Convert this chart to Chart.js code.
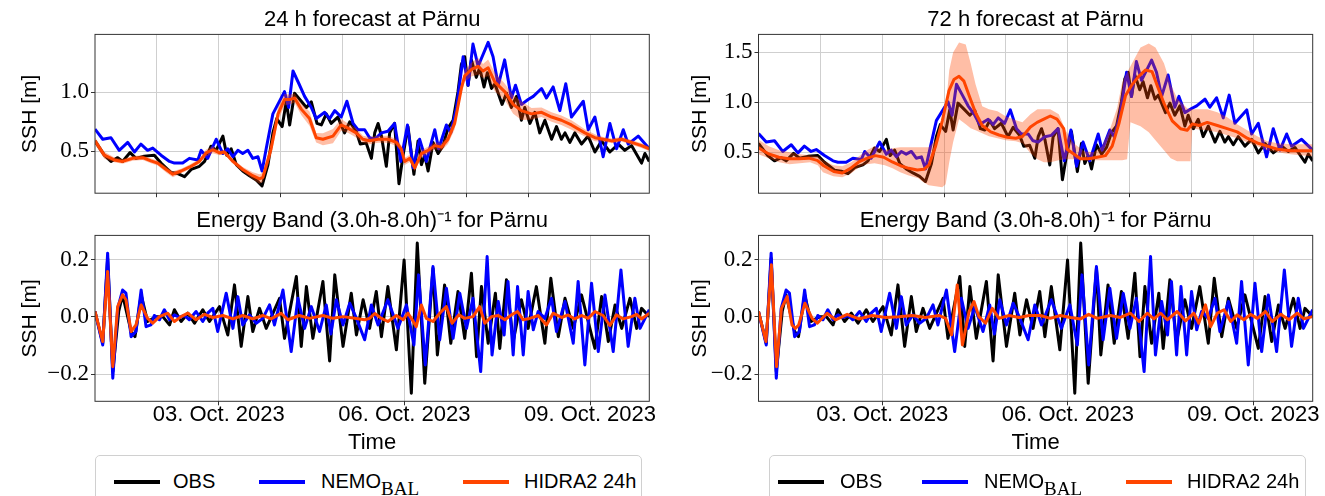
<!DOCTYPE html>
<html>
<head>
<meta charset="utf-8">
<script src="https://cdn.jsdelivr.net/npm/chart.js@4.4.0/dist/chart.umd.min.js"></script>
<style>
  body { margin: 0; background: #fff; width: 1325px; height: 496px; overflow: hidden; position: relative; }
  canvas { position: absolute; }
  .legend { position: absolute; top: 455px; height: 60px; border: 1px solid #d0d0d0; border-radius: 5px; background: #fff; font-family: "Liberation Sans", Arial, sans-serif; font-size: 20px; color: #000; }
  .legend i { position: absolute; top: 24px; width: 46px; height: 4px; }
  .legend span { position: absolute; top: 15px; line-height: 20px; white-space: nowrap; }
  .legend sub { font-family: "Liberation Serif", serif; font-size: 19px; vertical-align: -7px; line-height: 0; }
</style>
</head>
<body>
<canvas id="tl" width="662" height="209" style="left:0;top:0"></canvas>
<canvas id="bl" width="662" height="255" style="left:0;top:201px"></canvas>
<canvas id="tr" width="663" height="209" style="left:662px;top:0"></canvas>
<canvas id="br" width="663" height="255" style="left:662px;top:201px"></canvas>

<div class="legend" style="left:95px;width:545px">
  <i style="left:18px;background:#000"></i><span style="left:77px">OBS</span>
  <i style="left:163px;background:#0000ff"></i><span style="left:225px">NEMO<sub>BAL</sub></span>
  <i style="left:367px;background:#ff4500"></i><span style="left:428px">HIDRA2 24h</span>
</div>
<div class="legend" style="left:769px;width:535px">
  <i style="left:8px;background:#000"></i><span style="left:70px">OBS</span>
  <i style="left:152px;background:#0000ff"></i><span style="left:214px">NEMO<sub>BAL</sub></span>
  <i style="left:356px;background:#ff4500"></i><span style="left:417px">HIDRA2 24h</span>
</div>

<script>
// time axis: hours since 01 Oct 2023 00:00
const X_MAX = 215;
const dayTicks = [24, 48, 72, 96, 120, 144, 168, 192];
const labelTicks = [48, 120, 192];
const labelText = ["03. Oct. 2023", "06. Oct. 2023", "09. Oct. 2023"];

const sshTicks24 = [0.5, 1.0];
const sshTicks72 = [0.5, 1.0, 1.5];
const bandTicks = [-0.2, 0.0, 0.2];

// observed sea surface height
const obsT = [0,3.6,6.2,8.8,10.7,13.6,15.9,19.1,23.0,25.6,29.5,32.1,34.7,37.3,40.5,42.5,45.0,47.0,49.6,51.1,52.8,54.8,57.3,59.9,62.5,64.8,67.1,69.0,70.5,72.6,74.2,75.5,77.4,80.0,82.0,83.9,86.1,87.8,89.7,91.6,94.2,96.8,98.8,101.3,102.9,105.2,107.2,108.5,109.8,111.1,113.0,114.3,116.2,117.9,119.5,121.4,123.7,125.3,126.6,127.9,129.2,131.1,133.1,135.0,136.9,138.9,140.8,142.1,143.4,144.7,146.0,147.9,149.2,150.9,152.2,153.8,155.1,157.9,159.6,161.5,163.5,165.4,166.7,168.7,170.6,172.5,174.5,177.1,179.0,180.9,182.3,184.2,186.1,188.7,191.3,193.9,196.5,199.7,203.0,205.5,208.1,212.0,213.3,215];
const obsV = [0.588,0.467,0.414,0.446,0.414,0.489,0.440,0.459,0.467,0.400,0.320,0.311,0.285,0.346,0.373,0.414,0.543,0.508,0.629,0.467,0.521,0.387,0.333,0.293,0.258,0.207,0.387,0.656,0.777,0.709,0.924,0.723,0.992,0.924,0.871,0.919,0.736,0.723,0.817,0.736,0.790,0.656,0.750,0.669,0.561,0.57,0.44,0.656,0.736,0.629,0.373,0.656,0.736,0.225,0.467,0.709,0.306,0.588,0.387,0.467,0.333,0.575,0.481,0.548,0.696,0.763,1.005,1.234,1.301,1.059,1.274,1.126,1.207,1.045,1.166,1.032,1.072,0.897,0.992,0.871,0.965,0.763,0.871,0.736,0.830,0.656,0.763,0.602,0.709,0.602,0.656,0.575,0.656,0.561,0.629,0.494,0.588,0.494,0.561,0.508,0.548,0.400,0.481,0.414];

// NEMO model
const nemoT = [0,3.0,6.2,9.4,12.7,15.3,17.8,20.4,22.4,25.6,28.9,30.8,34.0,36.6,39.9,41.2,43.7,47.0,49.6,51.5,53.5,55.4,57.3,59.3,61.2,63.2,64.8,66.4,69.0,73.5,75.1,76.8,79.1,81.3,83.9,85.8,89.1,91.0,93.0,95.5,97.7,100.1,102.0,104.6,106.5,108.5,111.1,113.6,116.2,118.6,121.2,123.4,125.9,128.5,131.8,133.3,136.3,138.0,140.2,142.8,144.7,146.6,148.6,152.5,154.4,156.4,158.9,161.5,163.1,165.4,168.0,170.0,173.2,175.1,177.7,180.3,182.6,184.8,189.4,191.3,193.9,197.1,199.7,202.3,204.9,206.8,210.7,215];
const nemoV = [0.688,0.602,0.615,0.508,0.575,0.494,0.561,0.508,0.527,0.467,0.414,0.400,0.400,0.440,0.427,0.508,0.440,0.602,0.481,0.521,0.454,0.508,0.481,0.508,0.440,0.454,0.333,0.521,0.817,1.005,0.871,1.180,1.072,0.965,0.871,0.777,0.830,0.777,0.844,0.790,0.924,0.736,0.683,0.683,0.615,0.602,0.656,0.669,0.736,0.414,0.723,0.360,0.602,0.414,0.683,0.521,0.723,0.656,0.871,1.301,1.059,1.408,1.220,1.422,1.301,1.059,1.274,0.951,1.059,0.897,0.938,0.965,1.032,0.951,1.045,0.844,1.072,0.790,0.924,0.683,0.790,0.454,0.736,0.521,0.683,0.561,0.629,0.521];

// HIDRA2 24h forecast + ensemble spread
const h24T = [0,3.6,7.5,10.7,14.6,18.5,21.7,24.3,27.6,30.2,33.4,36.6,40.5,43.1,45.7,48.3,50.2,53.5,57.3,61.2,63.8,65.1,68.3,71.0,73.5,75.5,77.4,80.0,83.2,85.8,88.4,92.3,95.5,98.1,101.3,103.9,106.5,109.8,113.6,116.9,118.8,120.1,122.1,124.0,126.6,129.2,131.8,134.4,136.9,139.5,142.1,143.4,146.0,148.6,150.5,152.5,155.1,158.9,162.2,165.4,169.3,173.2,177.1,180.9,184.8,190.0,193.9,197.1,200.4,204.3,208.1,212.0,215];
const h24V = [0.588,0.467,0.427,0.414,0.440,0.446,0.419,0.400,0.346,0.306,0.333,0.365,0.414,0.486,0.513,0.486,0.494,0.414,0.346,0.293,0.266,0.279,0.521,0.817,0.938,0.938,0.951,0.857,0.777,0.615,0.602,0.629,0.723,0.696,0.656,0.602,0.59,0.602,0.602,0.575,0.521,0.414,0.440,0.360,0.481,0.508,0.548,0.535,0.602,0.736,1.032,1.139,1.193,1.220,1.180,1.207,1.086,1.005,0.897,0.844,0.817,0.830,0.790,0.763,0.723,0.656,0.615,0.602,0.588,0.602,0.575,0.548,0.521];
const h24Up = [0.618,0.497,0.447,0.434,0.460,0.466,0.439,0.420,0.371,0.331,0.353,0.385,0.434,0.516,0.543,0.506,0.514,0.434,0.366,0.323,0.306,0.319,0.581,0.877,0.988,0.978,0.991,0.907,0.837,0.655,0.652,0.689,0.773,0.736,0.696,0.632,0.62,0.632,0.632,0.605,0.551,0.444,0.470,0.390,0.511,0.538,0.578,0.565,0.642,0.786,1.072,1.189,1.253,1.290,1.240,1.277,1.166,1.075,0.977,0.924,0.867,0.870,0.830,0.803,0.763,0.686,0.645,0.622,0.608,0.622,0.595,0.568,0.541];
const h24Lo = [0.558,0.437,0.407,0.394,0.420,0.426,0.399,0.380,0.321,0.281,0.313,0.345,0.394,0.456,0.483,0.466,0.474,0.394,0.326,0.263,0.226,0.239,0.461,0.757,0.888,0.898,0.911,0.807,0.717,0.575,0.552,0.569,0.673,0.656,0.616,0.572,0.56,0.572,0.572,0.545,0.491,0.384,0.410,0.330,0.451,0.478,0.518,0.505,0.562,0.686,0.992,1.089,1.133,1.150,1.120,1.137,1.006,0.935,0.817,0.764,0.767,0.790,0.750,0.723,0.683,0.626,0.585,0.582,0.568,0.582,0.555,0.528,0.501];

// HIDRA2 72h forecast + ensemble spread
const h72T = [0,4.0,7.9,11.75,15.6,19.5,22.8,25.3,29.2,32.5,35.7,38.9,42.2,45.4,48.6,51.9,55.1,58.3,61.6,64.2,66.1,68.7,71.3,73.9,75.8,77.8,79.7,81.7,84.2,86.8,90.1,93.3,96.5,99.8,102.4,105.5,108.1,110.7,113.2,115.8,118.4,119.7,122.3,124.9,128.1,131.4,134.6,137.2,139.8,142.4,145.0,147.5,150.1,152.7,154.7,157.3,160.5,163.7,166.3,168.3,170.9,174.1,178.0,181.8,185.7,189.6,193.5,197.4,201.3,206.4,210.3,215];
const h72V = [0.545,0.482,0.450,0.434,0.434,0.441,0.419,0.365,0.307,0.292,0.339,0.403,0.441,0.466,0.450,0.403,0.365,0.339,0.323,0.330,0.371,0.561,0.815,1.117,1.228,1.260,1.212,1.069,0.895,0.768,0.704,0.673,0.650,0.641,0.657,0.752,0.799,0.831,0.863,0.831,0.736,0.530,0.482,0.434,0.434,0.450,0.466,0.561,0.784,1.069,1.180,1.260,1.323,1.307,1.165,0.990,0.815,0.736,0.720,0.784,0.768,0.799,0.768,0.736,0.704,0.641,0.593,0.561,0.530,0.514,0.514,0.514];
const b72T = [0,4,8,12,16,20,23,25,29,32.5,36,39,42,45,49,52,55,58,62,64,66,68.7,71.3,72.6,74,75.5,77.8,80.4,82.3,84.2,86.8,89.4,92.7,95.9,99.8,102.4,105.5,108.2,110.7,113.2,116.5,119.1,122.3,126.2,130.1,133.3,136.6,139.1,141.1,143.0,144.3,148.2,151.4,154.0,157.3,159.9,162.4,166.3,167.6,168.3,170.2,174.1,178.0,181.8,185.7,189.6,193.5,197.4,201.3,206.4,210.3,215];
const b72Up = [0.625,0.56,0.52,0.50,0.48,0.47,0.46,0.42,0.37,0.36,0.40,0.46,0.52,0.56,0.52,0.54,0.55,0.55,0.55,0.55,0.55,0.62,0.85,0.94,1.32,1.50,1.60,1.58,1.39,1.18,0.96,0.93,0.91,0.86,0.82,0.80,0.88,0.93,0.93,0.93,0.88,0.72,0.59,0.51,0.50,0.56,0.75,0.94,1.20,1.30,1.36,1.55,1.59,1.55,1.39,1.18,1.04,0.94,0.93,0.93,0.93,0.93,0.90,0.85,0.78,0.72,0.66,0.61,0.59,0.58,0.58,0.58];
const b72Lo = [0.48,0.44,0.40,0.38,0.39,0.40,0.37,0.30,0.26,0.25,0.29,0.35,0.38,0.39,0.37,0.34,0.30,0.27,0.24,0.20,0.17,0.16,0.15,0.18,0.40,0.60,0.83,0.78,0.74,0.72,0.69,0.66,0.64,0.62,0.61,0.59,0.49,0.43,0.40,0.40,0.42,0.43,0.43,0.42,0.42,0.42,0.42,0.42,0.42,0.43,0.80,0.76,0.70,0.62,0.52,0.44,0.41,0.41,0.41,0.74,0.73,0.72,0.70,0.67,0.64,0.60,0.56,0.52,0.50,0.48,0.47,0.46];

// energy band (3h-8h) signals
const obsBT = [0,3.0,4.9,6.9,9.2,10.7,14.0,15.5,17.9,20.4,23.7,26.3,28.9,30.8,33.4,36.0,38.6,41.8,44.4,48.3,51.5,54.1,56.7,59.3,61.2,63.8,66.4,71.6,73.5,78.1,80.0,82.0,84.5,88.4,91.0,93.0,96.2,99.4,101.4,104.0,106.5,109.1,111.1,113.6,116.9,119.9,122.7,125.0,127.9,131.1,132.8,135.6,138.0,140.8,143.4,146.0,148.0,149.9,152.5,155.3,157.0,159.6,162.2,165.4,168.0,171.2,174.5,176.8,179.7,182.3,185.5,188.7,193.9,196.5,199.1,201.7,204.3,207.5,210.1,212.0,215];
const obsBV = [0.019,-0.092,0.205,-0.191,0.019,0.077,-0.051,-0.069,0.077,-0.016,0.001,0.001,-0.028,0.025,-0.016,0.013,-0.022,0.025,-0.016,0.036,-0.063,0.112,-0.103,0.071,-0.051,0.030,-0.040,0.065,-0.075,0.141,-0.103,0.106,-0.075,0.124,-0.154,0.147,-0.103,0.083,-0.063,0.060,-0.040,0.089,-0.069,0.106,-0.115,0.199,-0.267,0.258,-0.232,0.170,-0.133,0.112,-0.092,0.089,-0.075,0.153,-0.139,0.106,-0.092,0.083,-0.110,0.130,-0.086,0.060,-0.040,0.106,-0.092,0.135,-0.069,0.065,-0.040,0.077,-0.110,0.071,-0.086,0.042,-0.040,0.065,-0.040,0.030,0.001];
const nemoBT = [0,3.0,4.9,6.9,8.8,10.7,12.0,14.0,15.9,17.9,19.8,21.7,23.0,25.0,26.9,28.9,30.8,32.7,34.7,36.6,39.2,41.8,43.7,45.7,47.6,50.9,53.5,55.4,57.3,59.9,62.5,65.1,67.7,69.6,72.9,76.1,78.7,81.3,83.9,87.1,89.7,91.5,93.6,96.2,98.8,101.4,104.6,107.2,109.8,113.6,117.5,120.8,123.7,125.5,128.1,131.1,133.7,136.3,138.9,141.5,144.1,146.6,149.6,152.1,154.0,156.4,158.7,160.2,162.2,163.9,166.1,168.0,170.0,171.9,174.5,177.1,179.0,182.3,185.5,187.4,190.0,192.6,195.2,197.8,201.0,204.0,206.8,209.4,211.4,215];
const nemoBV = [0.019,-0.098,0.223,-0.214,0.030,0.094,0.083,-0.069,-0.051,0.094,-0.034,-0.028,0.005,-0.010,0.025,-0.010,0.007,-0.002,0.005,-0.010,0.019,-0.016,0.013,0.030,-0.051,0.083,-0.040,0.071,-0.028,0.007,-0.022,-0.005,0.042,-0.028,0.094,-0.121,0.065,-0.040,0.036,-0.051,0.042,-0.060,0.060,-0.028,0.048,-0.005,-0.080,0.042,-0.028,0.060,-0.040,0.042,-0.098,0.147,-0.168,0.176,-0.080,0.100,-0.075,0.083,-0.040,0.065,-0.191,0.211,-0.133,0.054,-0.063,0.124,-0.133,0.106,-0.133,0.089,-0.045,0.019,-0.005,0.065,-0.051,0.054,-0.092,0.124,-0.168,0.118,-0.121,0.077,-0.121,0.164,-0.103,0.065,-0.040,0.025];
const h24BT = [0,3.0,4.9,6.9,8.8,10.7,12.0,14.0,15.9,17.9,20.4,22.4,25.0,28.2,30.8,33.4,36.0,39.2,42.5,45.7,49.6,53.5,57.3,61.2,65.1,68.3,72.2,74.8,79.3,83.2,88.4,92.3,96.2,100.7,104.6,106.5,108.5,111.1,113.6,116.9,119.5,121.4,122.7,124.6,126.6,128.5,131.1,133.7,136.3,138.5,141.1,143.4,146.6,149.2,151.2,153.8,156.4,159.0,161.5,163.9,166.1,168.7,171.9,175.1,177.7,181.0,183.5,186.1,188.7,191.3,193.9,197.1,199.7,202.3,204.9,208.1,210.1,212.0,215];
const h24BV = [0.019,-0.086,0.159,-0.174,0.036,0.077,0.060,-0.051,-0.028,0.042,-0.005,-0.022,0.001,0.013,-0.016,0.001,0.013,-0.010,0.009,-0.002,0.005,-0.007,0.005,-0.007,0.005,-0.007,0.013,-0.010,0.005,-0.005,0.005,-0.005,0.001,-0.005,-0.010,-0.005,0.012,-0.005,-0.016,0.005,-0.010,0.013,-0.005,-0.034,0.042,-0.005,-0.016,0.013,0.036,-0.022,0.007,-0.005,0.001,0.036,-0.022,0.001,0.005,-0.010,0.007,0.019,-0.010,-0.005,0.005,-0.028,0.013,-0.002,0.007,-0.007,0.005,-0.005,0.019,0.005,-0.030,0.007,-0.007,0.001,0.009,-0.007,0.013];
const h72BT = [0,2.9,5.0,7.0,8.9,11.1,13.0,14.3,15.6,18.0,20.8,22.8,26.6,29.9,34.4,38.9,44.1,49.3,54.5,59.6,64.8,70.0,72.6,74.9,77.1,79.1,81.7,83.6,85.5,88.1,90.7,93.3,97.2,101.1,105.0,109.4,113.2,117.1,121.0,124.9,128.1,131.4,136.5,140.4,144.3,147.6,150.8,153.4,156.0,158.6,162.4,165.7,168.9,170.8,173.4,175.4,178.0,180.6,183.2,185.7,188.3,190.9,193.5,196.7,199.3,202.6,205.8,209.0,211.6,215];
const h72BV = [0.019,-0.086,0.182,-0.174,0.030,0.071,-0.028,-0.040,-0.028,0.048,-0.005,-0.022,0.013,-0.010,0.009,-0.007,0.005,-0.002,0.001,0.005,-0.002,0.005,-0.005,-0.063,0.112,-0.098,0.019,0.054,0.001,-0.022,0.030,-0.005,0.005,-0.002,0.005,0.005,-0.005,0.005,-0.002,-0.007,0.009,-0.005,0.005,-0.002,0.013,-0.016,0.013,-0.007,0.013,-0.010,0.019,-0.014,0.013,-0.022,0.042,-0.034,0.013,0.025,-0.016,0.007,-0.010,0.009,-0.005,0.019,-0.016,0.009,-0.010,0.013,-0.007,0.001];

const SANS = '"Liberation Sans", Arial, sans-serif';
const SERIF = '"Liberation Serif", "Times New Roman", serif';
const GRID = "#cfcfcf";
const OBS_COLOR = "#000000";
const NEMO_COLOR = "#0000ff";
const HIDRA_COLOR = "#ff4500";
const BAND_COLOR = "rgba(255, 69, 0, 0.35)";

const pts = (ts, vs) => ts.map((t, i) => ({ x: t, y: vs[i] }));

const line = (ts, vs, color, order) => ({
  data: pts(ts, vs),
  borderColor: color,
  borderWidth: 3,
  borderJoinStyle: "round",
  pointRadius: 0,
  tension: 0,
  fill: false,
  clip: 0,
  order,
});

const band = (ts, vs, fill) => ({
  data: pts(ts, vs),
  borderWidth: 0,
  borderColor: "rgba(0,0,0,0)",
  backgroundColor: BAND_COLOR,
  pointRadius: 0,
  tension: 0,
  fill,
  clip: 0,
  order: 2,
});

const fmt = (v) => (v < -1e-9 ? "\u2212" : "") + Math.abs(v).toFixed(1);

// black box round the plot area, like the matplotlib spines
const frame = {
  id: "frame",
  afterDatasetsDraw(chart) {
    const { ctx, chartArea: a } = chart;
    ctx.save();
    ctx.strokeStyle = "#333";
    ctx.lineWidth = 1;
    ctx.strokeRect(a.left, a.top, a.right - a.left, a.bottom - a.top);
    ctx.restore();
  },
};

const makePanel = (id, o) => {
  new Chart(document.getElementById(id), {
    type: "line",
    data: { datasets: o.datasets },
    options: {
      responsive: false,
      animation: false,
      events: [],
      layout: { padding: { left: 0, right: o.padRight, top: 0, bottom: 0 } },
      plugins: {
        legend: { display: false },
        tooltip: { enabled: false },
        title: {
          display: true,
          fullSize: false,
          text: o.title,
          color: "#000",
          font: { family: SANS, size: 22, weight: "normal" },
          padding: { top: 7, bottom: 1 },
        },
      },
      scales: {
        x: {
          type: "linear",
          min: 0,
          max: X_MAX,
          afterBuildTicks: (s) => {
            s.ticks = (o.bottom ? labelTicks : dayTicks).map((v) => ({ value: v }));
          },
          afterFit: (s) => {
            s.height = o.xHeight;
          },
          ticks: {
            display: o.bottom,
            autoSkip: false,
            maxRotation: 0,
            padding: -4,
            color: "#000",
            font: { family: SANS, size: 22 },
            callback: (v) => labelText[labelTicks.indexOf(v)] || "",
          },
          grid: { color: GRID, lineWidth: 1, tickLength: 4, tickColor: "#333" },
          border: { display: false },
          title: {
            display: o.bottom,
            text: "Time",
            color: "#000",
            font: { family: SANS, size: 22 },
            padding: { top: 0, bottom: 0 },
          },
        },
        y: {
          min: o.yMin,
          max: o.yMax,
          afterBuildTicks: (s) => {
            s.ticks = o.yTicks.map((v) => ({ value: v }));
          },
          afterFit: (s) => {
            s.width = o.yWidth;
          },
          ticks: { padding: 2, color: "#000", font: { family: SERIF, size: 23 }, callback: fmt },
          grid: { color: GRID, lineWidth: 1, tickLength: 4, tickColor: "#333" },
          border: { display: false },
          title: {
            display: true,
            text: "SSH [m]",
            color: "#000",
            font: { family: SANS, size: 21 },
            padding: { top: o.yTitlePad, bottom: 0 },
          },
        },
      },
    },
    plugins: [frame],
  });
};

makePanel("tl", {
  title: "24 h forecast at Pärnu",
  bottom: false,
  xHeight: 7.7,
  yWidth: 95,
  yTitlePad: 18,
  padRight: 12.7,
  yMin: 0.145,
  yMax: 1.49,
  yTicks: sshTicks24,
  datasets: [
    line(obsT, obsV, OBS_COLOR, 4),
    line(nemoT, nemoV, NEMO_COLOR, 3),
    band(h24T, h24Up, "+1"),
    band(h24T, h24Lo, false),
    line(h24T, h24V, HIDRA_COLOR, 1),
  ],
});

makePanel("tr", {
  title: "72 h forecast at Pärnu",
  bottom: false,
  xHeight: 7.7,
  yWidth: 96.5,
  yTitlePad: 26,
  padRight: 12.3,
  yMin: 0.09,
  yMax: 1.68,
  yTicks: sshTicks72,
  datasets: [
    line(obsT, obsV, OBS_COLOR, 4),
    line(nemoT, nemoV, NEMO_COLOR, 3),
    band(b72T, b72Up, "+1"),
    band(b72T, b72Lo, false),
    line(h72T, h72V, HIDRA_COLOR, 1),
  ],
});

makePanel("bl", {
  title: "Energy Band (3.0h-8.0h)\u207B\u00B9 for Pärnu",
  bottom: true,
  xHeight: 54.7,
  yWidth: 95,
  yTitlePad: 18,
  padRight: 12.7,
  yMin: -0.295,
  yMax: 0.285,
  yTicks: bandTicks,
  datasets: [
    line(obsBT, obsBV, OBS_COLOR, 3),
    line(nemoBT, nemoBV, NEMO_COLOR, 2),
    line(h24BT, h24BV, HIDRA_COLOR, 1),
  ],
});

makePanel("br", {
  title: "Energy Band (3.0h-8.0h)\u207B\u00B9 for Pärnu",
  bottom: true,
  xHeight: 54.7,
  yWidth: 96.5,
  yTitlePad: 26,
  padRight: 12.3,
  yMin: -0.295,
  yMax: 0.285,
  yTicks: bandTicks,
  datasets: [
    line(obsBT, obsBV, OBS_COLOR, 3),
    line(nemoBT, nemoBV, NEMO_COLOR, 2),
    line(h72BT, h72BV, HIDRA_COLOR, 1),
  ],
});
</script>
</body>
</html>
